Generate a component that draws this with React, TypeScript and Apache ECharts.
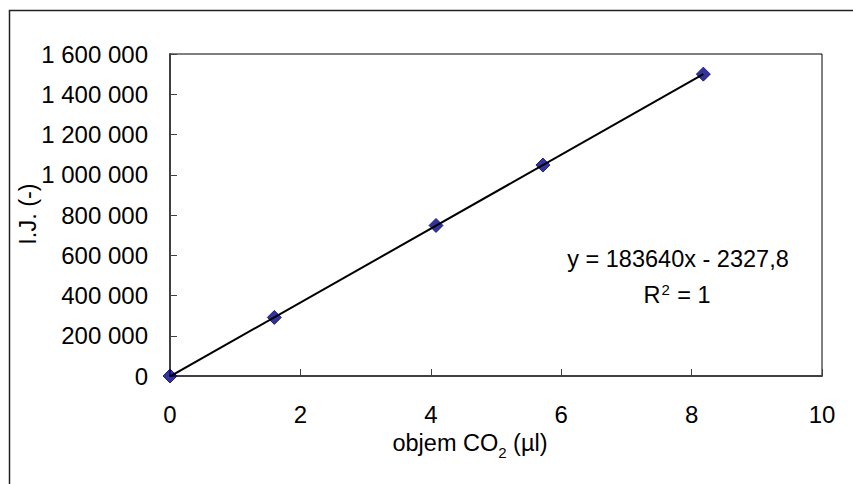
import React, { useEffect, useRef } from "react";
import * as echarts from "echarts";

// Data
const volumeCO2 = [0, 1.6, 4.08, 5.72, 8.18]; // µl
const intensity = [0, 291000, 748000, 1048000, 1500000]; // I.J.
const trendSlope = 183640;
const trendIntercept = -2327.8;
const xTickMin = 0;
const xTickMax = 10;
const xTickStep = 2;
const yTickMin = 0;
const yTickMax = 1600000;
const yTickStep = 200000;
const equationLabel = "y = 183640x - 2327,8";

const FONT = "'Liberation Sans', Arial, sans-serif";
const FS = 24;
const FT = 23.5;

export default function App() {
  const ref = useRef<HTMLDivElement>(null);

  useEffect(() => {
    document.body.style.margin = "0";
    if (!ref.current) return;
    const chart = echarts.init(ref.current, undefined, { renderer: "svg" });

    const points = volumeCO2.map((x, i) => [x, intensity[i]]);
    const xEnd = Math.max(...volumeCO2);
    const trend = [
      [0, trendSlope * 0 + trendIntercept],
      [xEnd, trendSlope * xEnd + trendIntercept],
    ];

    const fmtSpace = (v: number) =>
      String(Math.round(v)).replace(/\B(?=(\d{3})+(?!\d))/g, " ");

    chart.setOption({
      animation: false,
      backgroundColor: "#ffffff",
      textStyle: { fontFamily: FONT },
      grid: {
        left: 170,
        top: 54,
        width: 652,
        height: 322,
        show: true,
        borderColor: "#000000",
        borderWidth: 1,
        backgroundColor: "transparent",
      },
      xAxis: {
        type: "value",
        min: xTickMin,
        max: xTickMax,
        interval: xTickStep,
        axisLine: { show: true, onZero: false, lineStyle: { color: "#404040", width: 2 } },
        axisTick: { show: true, inside: true, length: 7, lineStyle: { color: "#404040", width: 1 } },
        axisLabel: { color: "#000", fontSize: FS, fontFamily: FONT, margin: 26 },
        splitLine: { show: false },
      },
      yAxis: {
        type: "value",
        min: yTickMin,
        max: yTickMax,
        interval: yTickStep,
        axisLine: { show: true, onZero: false, lineStyle: { color: "#404040", width: 2 } },
        axisTick: { show: true, inside: true, length: 7, lineStyle: { color: "#404040", width: 1 } },
        axisLabel: {
          color: "#000",
          fontSize: FS,
          fontFamily: FONT,
          margin: 22,
          formatter: (v: number) => fmtSpace(v),
        },
        splitLine: { show: false },
      },
      series: [
        {
          type: "scatter",
          data: points,
          symbol: "diamond",
          symbolSize: 14,
          clip: false,
          itemStyle: { color: "#000080", borderColor: "#000080", borderWidth: 1 },
          z: 2,
        },
        {
          type: "line",
          data: trend,
          showSymbol: false,
          symbol: "none",
          lineStyle: { color: "#000000", width: 2 },
          clip: true,
          z: 3,
        },
      ],
      graphic: [
        {
          type: "rect",
          silent: true,
          shape: { x: 9.5, y: 10.5, width: 900, height: 520 },
          style: { fill: "none", stroke: "#222222", lineWidth: 1.5 },
          z: 100,
        },
        {
          type: "text",
          x: 27.5,
          y: 214,
          rotation: Math.PI / 2,
          style: {
            text: "I.J. (-)",
            fontSize: FT,
            fontFamily: FONT,
            fill: "#000",
            align: "center",
            verticalAlign: "middle",
          },
        },
        {
          type: "text",
          x: 470,
          y: 443,
          style: {
            text: "{a|objem CO}{s|2}{a| (µl)}",
            rich: {
              a: { fontSize: FT, fontFamily: FONT, fill: "#000", verticalAlign: "bottom" },
              s: {
                fontSize: 15,
                fontFamily: FONT,
                fill: "#000",
                verticalAlign: "bottom",
                padding: [0, 0, -5, 0],
              },
            },
            align: "center",
            verticalAlign: "middle",
          },
        },
        {
          type: "text",
          x: 678,
          y: 259,
          style: {
            text: equationLabel,
            fontSize: FT,
            fontFamily: FONT,
            fill: "#000",
            align: "center",
            verticalAlign: "middle",
          },
        },
        {
          type: "text",
          x: 677,
          y: 294,
          style: {
            text: "{a|R}{p|2}{a| = 1}",
            rich: {
              a: { fontSize: FT, fontFamily: FONT, fill: "#000", verticalAlign: "bottom" },
              p: {
                fontSize: 15,
                fontFamily: FONT,
                fill: "#000",
                verticalAlign: "bottom",
                padding: [0, 1, 10, 1],
              },
            },
            align: "center",
            verticalAlign: "middle",
          },
        },
      ],
    });

    return () => chart.dispose();
  }, []);

  return (
    <div
      ref={ref}
      style={{ position: "absolute", left: 0, top: 0, width: 853, height: 484, background: "#fff" }}
    />
  );
}
